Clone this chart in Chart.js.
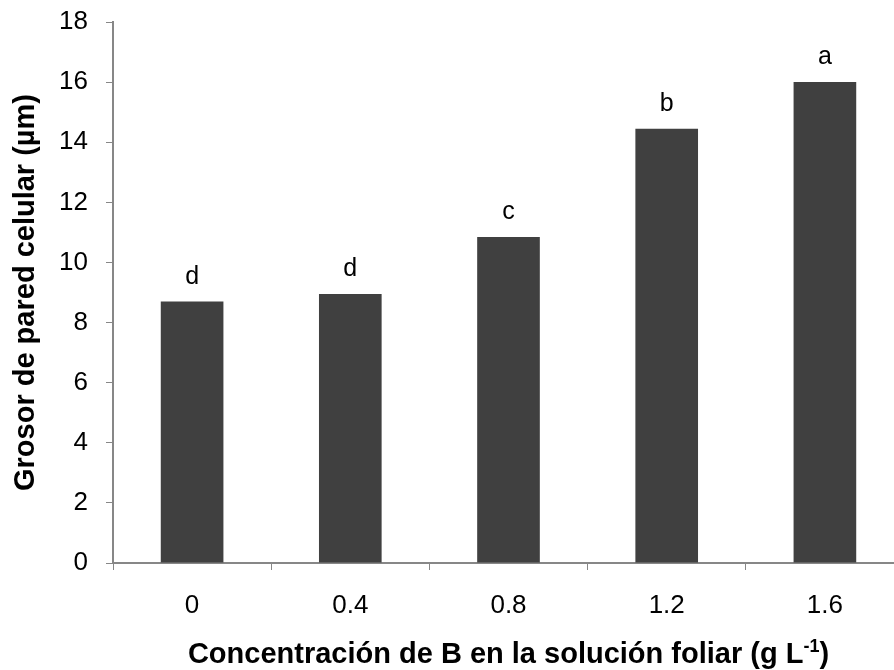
<!DOCTYPE html>
<html>
<head>
<meta charset="utf-8">
<script src="https://cdn.jsdelivr.net/npm/chart.js@4.4.0/dist/chart.umd.min.js"></script>
<style>
  html, body { margin: 0; padding: 0; background: #fff; overflow: hidden; }
  #wrap { width: 894px; height: 670px; overflow: hidden; }
</style>
</head>
<body>
<div id="wrap"><canvas id="chart" width="904" height="670"></canvas></div>
<script>
// Data
const categories = ["0", "0.4", "0.8", "1.2", "1.6"];
const thickness = [8.7, 8.95, 10.85, 14.45, 16.0];
const letters = ["d", "d", "c", "b", "a"];
const yTicks = [0, 2, 4, 6, 8, 10, 12, 14, 16, 18];

const yTitle = "Grosor de pared celular (µm)";
const xTitleMain = "Concentración de B en la solución foliar (g L";
const xTitleSup = "-1";
const xTitleEnd = ")";

const FONT = "'Liberation Sans', Arial, sans-serif";
const axisGray = "#878787";

// letters above bars + axis titles
const annotate = {
  id: "annotate",
  afterDatasetsDraw(chart) {
    const ctx = chart.ctx;
    const meta = chart.getDatasetMeta(0);
    ctx.save();
    ctx.fillStyle = "#000";
    ctx.font = "25px " + FONT;
    ctx.textAlign = "center";
    ctx.textBaseline = "alphabetic";
    meta.data.forEach((bar, i) => {
      ctx.fillText(letters[i], bar.x, bar.y - 18);
    });
    ctx.restore();
  },
  afterDraw(chart) {
    const ctx = chart.ctx;
    const area = chart.chartArea;
    ctx.save();
    ctx.fillStyle = "#000";

    // y title
    ctx.font = "bold 29px " + FONT;
    ctx.textAlign = "center";
    ctx.textBaseline = "alphabetic";
    ctx.translate(34, (area.top + area.bottom) / 2);
    ctx.rotate(-Math.PI / 2);
    ctx.fillText(yTitle, 0, 0);
    ctx.setTransform(1, 0, 0, 1, 0, 0);

    // x title with superscript
    ctx.textAlign = "left";
    ctx.font = "bold 29px " + FONT;
    const w1 = ctx.measureText(xTitleMain).width;
    const w3 = ctx.measureText(xTitleEnd).width;
    ctx.font = "bold 18px " + FONT;
    const w2 = ctx.measureText(xTitleSup).width;
    const total = w1 + w2 + w3;
    let x = (area.left + area.right) / 2 - total / 2;
    const y = 663;
    ctx.font = "bold 29px " + FONT;
    ctx.fillText(xTitleMain, x, y);
    x += w1;
    ctx.font = "bold 18px " + FONT;
    ctx.fillText(xTitleSup, x, y - 11);
    x += w2;
    ctx.font = "bold 29px " + FONT;
    ctx.fillText(xTitleEnd, x, y);
    ctx.restore();
  }
};

new Chart(document.getElementById("chart"), {
  type: "bar",
  data: {
    labels: categories,
    datasets: [{
      data: thickness,
      backgroundColor: "#404040",
      borderWidth: 0,
      categoryPercentage: 1,
      barPercentage: 0.396
    }]
  },
  options: {
    responsive: false,
    animation: false,
    layout: { padding: { top: 22, right: 0, bottom: 0, left: 0 } },
    plugins: {
      legend: { display: false },
      tooltip: { enabled: false }
    },
    scales: {
      x: {
        offset: true,
        grid: {
          offset: true,
          drawOnChartArea: false,
          color: axisGray,
          tickLength: 7,
          tickColor: axisGray
        },
        border: { color: axisGray, width: 2 },
        ticks: {
          color: "#000",
          font: { family: FONT, size: 26 },
          padding: 20,
          maxRotation: 0
        },
        afterFit(scale) {
          scale.height = 670 - 563;
          scale.paddingLeft = 0;
          scale.paddingRight = 0;
        }
      },
      y: {
        min: 0,
        max: 18,
        afterBuildTicks(scale) { scale.ticks = yTicks.map(v => ({ value: v })); },
        grid: {
          drawOnChartArea: false,
          color: axisGray,
          tickLength: 7,
          tickColor: axisGray
        },
        border: { color: axisGray, width: 2 },
        ticks: {
          color: "#000",
          font: { family: FONT, size: 26 },
          padding: 18
        },
        afterFit(scale) {
          scale.width = 113;
          scale.paddingTop = 0;
          scale.paddingBottom = 0;
        }
      }
    }
  },
  plugins: [annotate]
});
</script>
</body>
</html>
